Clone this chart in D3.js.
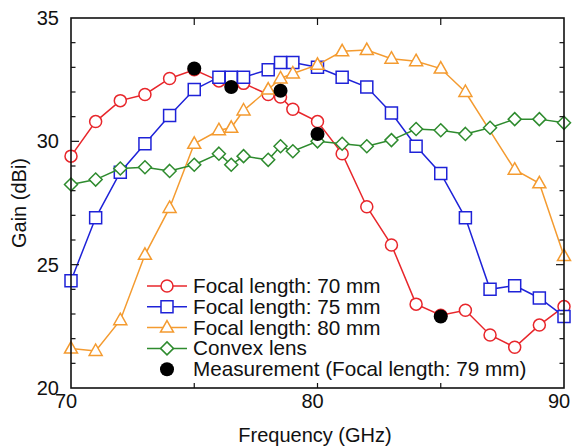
<!DOCTYPE html>
<meta charset="utf-8">
<style>
body { margin: 0; background: #fff; }
text { font-family: "Liberation Sans", Arial, Helvetica, sans-serif; fill: #111; }
</style>
<body>
<div id="chart"></div>
<script src="https://cdn.jsdelivr.net/npm/d3@7"></script>
<script>

// data
var freqs = [70,71,72,73,74,75,76,76.5,77,78,78.5,79,80,81,82,83,84,85,86,87,88,89,90];
var gain70 = [29.4,30.8,31.65,31.9,32.55,32.9,32.45,32.3,32.35,31.9,31.8,31.3,30.8,29.5,27.35,25.8,23.4,22.95,23.15,22.15,21.65,22.55,23.3];
var gain75 = [24.35,26.9,28.75,29.9,31.05,32.1,32.6,32.6,32.6,32.9,33.2,33.2,33.0,32.6,32.2,31.15,29.8,28.7,26.9,24.0,24.15,23.65,22.9];
var freqs80 = [70,71,72,73,74,75,76,76.5,77,78,78.5,79,80,81,82,83,84,85,86,88,89,90];
var gain80 = [21.6,21.5,22.75,25.4,27.3,29.9,30.45,30.55,31.25,32.1,32.55,32.75,33.1,33.65,33.7,33.35,33.25,32.95,32.0,28.85,28.3,25.35];
var gainConvex = [28.25,28.45,28.9,28.95,28.8,29.05,29.5,29.05,29.4,29.25,29.8,29.6,30.0,29.9,29.8,30.05,30.5,30.45,30.3,30.55,30.9,30.9,30.75];
var measFreqs = [75,76.5,78.5,80,85];
var measGain = [32.95,32.2,32.05,30.3,22.9];

var xTickLabels = [70,80,90];
var yTickLabels = [20,25,30,35];
var legendLabels = ["Focal length: 70 mm","Focal length: 75 mm","Focal length: 80 mm","Convex lens","Measurement (Focal length: 79 mm)"];

var margin = {top: 18, right: 9, bottom: 59, left: 71},
    width = 573 - margin.left - margin.right,
    height = 447 - margin.top - margin.bottom;

var x = d3.scaleLinear().domain([70, 90]).range([0, width]);
var y = d3.scaleLinear().domain([20, 35]).range([height, 0]);

var svg = d3.select("#chart").append("svg")
    .attr("width", 573)
    .attr("height", 447);

var g = svg.append("g").attr("transform", "translate(" + margin.left + "," + margin.top + ")");

// marker shapes
function marker(type, cx, cy) {
  if (type == "circle") {
    var r = 6;
    return "M" + (cx - r) + "," + cy + "a" + r + "," + r + " 0 1,0 " + (2*r) + ",0a" + r + "," + r + " 0 1,0 " + (-2*r) + ",0Z";
  }
  if (type == "square") {
    var s = 6;
    return "M" + (cx - s) + "," + (cy - s) + "h" + (2*s) + "v" + (2*s) + "h" + (-2*s) + "Z";
  }
  if (type == "triangle") {
    return "M" + cx + "," + (cy - 7) + "L" + (cx + 6.5) + "," + (cy + 4.5) + "L" + (cx - 6.5) + "," + (cy + 4.5) + "Z";
  }
  // diamond
  return "M" + cx + "," + (cy - 6.5) + "L" + (cx + 6.5) + "," + cy + "L" + cx + "," + (cy + 6.5) + "L" + (cx - 6.5) + "," + cy + "Z";
}

var series = [
  {xs: freqs, ys: gain70, color: "#e8262b", shape: "circle"},
  {xs: freqs, ys: gain75, color: "#1e22d8", shape: "square"},
  {xs: freqs80, ys: gain80, color: "#f49b30", shape: "triangle"},
  {xs: freqs, ys: gainConvex, color: "#2e8b2e", shape: "diamond"}
];

var line = d3.line().x(function(d) { return x(d[0]); }).y(function(d) { return y(d[1]); });

series.forEach(function(s) {
  var pts = s.xs.map(function(f, i) { return [f, s.ys[i]]; });
  g.append("path")
    .attr("d", line(pts))
    .attr("fill", "none")
    .attr("stroke", s.color)
    .attr("stroke-width", 1.5);
  g.selectAll(null).data(pts).enter().append("path")
    .attr("d", function(d) { return marker(s.shape, x(d[0]), y(d[1])); })
    .attr("fill", "#fff")
    .attr("stroke", s.color)
    .attr("stroke-width", 1.5);
});

g.selectAll(".meas").data(measFreqs).enter().append("circle")
  .attr("class", "meas")
  .attr("cx", function(d) { return x(d); })
  .attr("cy", function(d, i) { return y(measGain[i]); })
  .attr("r", 7)
  .attr("fill", "#000");

// frame and ticks
g.append("rect")
  .attr("width", width).attr("height", height)
  .attr("fill", "none").attr("stroke", "#111").attr("stroke-width", 1.6);

var yMinor = d3.range(21, 35);
g.selectAll(".ytl").data(yMinor).enter().append("line")
  .attr("x1", 0).attr("x2", function(d) { return d % 5 == 0 ? 8 : 4.5; })
  .attr("y1", function(d) { return y(d); }).attr("y2", function(d) { return y(d); })
  .attr("stroke", "#111").attr("stroke-width", 1.2);
g.selectAll(".ytr").data(yMinor).enter().append("line")
  .attr("x1", width).attr("x2", function(d) { return width - (d % 5 == 0 ? 8 : 4.5); })
  .attr("y1", function(d) { return y(d); }).attr("y2", function(d) { return y(d); })
  .attr("stroke", "#111").attr("stroke-width", 1.2);

var xTicks = [75, 80, 85];
g.selectAll(".xtt").data(xTicks).enter().append("line")
  .attr("x1", function(d) { return x(d); }).attr("x2", function(d) { return x(d); })
  .attr("y1", 0).attr("y2", 7)
  .attr("stroke", "#111").attr("stroke-width", 1.2);
g.selectAll(".xtb").data(xTicks).enter().append("line")
  .attr("x1", function(d) { return x(d); }).attr("x2", function(d) { return x(d); })
  .attr("y1", height).attr("y2", height - 5)
  .attr("stroke", "#111").attr("stroke-width", 1.2);

g.selectAll(".xlab").data(xTickLabels).enter().append("text")
  .attr("x", function(d) { return x(d) - 5; })
  .attr("y", height + 20)
  .attr("text-anchor", "middle")
  .style("font-size", "20px")
  .text(function(d) { return d; });

g.selectAll(".ylab").data(yTickLabels).enter().append("text")
  .attr("x", -12)
  .attr("y", function(d) { return y(d) + 7; })
  .attr("text-anchor", "end")
  .style("font-size", "20px")
  .text(function(d) { return d; });

svg.append("text")
  .attr("x", 315).attr("y", 442)
  .attr("text-anchor", "middle")
  .style("font-size", "20px")
  .text("Frequency (GHz)");

svg.append("text")
  .attr("transform", "translate(26," + (margin.top + height / 2) + ") rotate(-90)")
  .attr("text-anchor", "middle")
  .style("font-size", "20px")
  .text("Gain (dBi)");

// legend
var legend = svg.append("g").attr("transform", "translate(147,286)");
legendLabels.forEach(function(lab, i) {
  var row = legend.append("g").attr("transform", "translate(0," + (i * 20.8) + ")");
  if (i < 4) {
    var s = series[i];
    row.append("line").attr("x1", 0).attr("x2", 40).attr("y1", 0).attr("y2", 0)
      .attr("stroke", s.color).attr("stroke-width", 1.5);
    row.append("path").attr("d", marker(s.shape, 20, 0))
      .attr("fill", "#fff").attr("stroke", s.color).attr("stroke-width", 1.5);
  } else {
    row.append("circle").attr("cx", 20).attr("cy", 0).attr("r", 7).attr("fill", "#000");
  }
  row.append("text").attr("x", 46).attr("y", 7)
    .style("font-size", "20.7px")
    .text(lab);
});

</script>
</body>
